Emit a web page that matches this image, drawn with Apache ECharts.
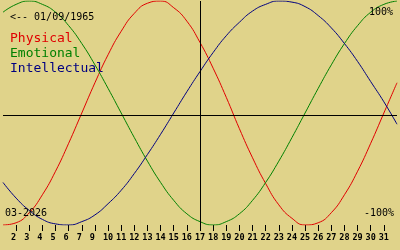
<!DOCTYPE html>
<html>
<head>
<meta charset="utf-8">
<script src="https://cdn.jsdelivr.net/npm/echarts@6/dist/echarts.min.js"></script>
<style>
html,body{margin:0;padding:0;background:#e0d38a;}
#c{width:400px;height:250px;}
</style>
</head>
<body>
<div id="c"></div>
<script>
// Tick labels under the ticks (note: "8" is absent in the reference)
const tickLabels = ['2','3','4','5','6','7','9','10','11','12','13','14','15','16','17','18','19','20','21','22','23','24','25','26','27','28','29','30','31'];
// Sample positions (day steps across the month, 0..30)
const steps = [0,1,2,3,4,5,6,7,8,9,10,11,12,13,14,15,16,17,18,19,20,21,22,23,24,25,26,27,28,29,30];
// Biorhythm values (-1..1)
const physical = [-1.00,-0.98,-0.89,-0.73,-0.52,-0.27,0.00,0.27,0.52,0.73,0.89,0.98,1.00,0.94,0.82,0.63,0.40,0.14,-0.14,-0.40,-0.63,-0.82,-0.94,-1.00,-0.98,-0.89,-0.73,-0.52,-0.27,0.00,0.27];
const emotional = [0.90,0.97,1.00,0.97,0.90,0.78,0.62,0.43,0.22,0.00,-0.22,-0.43,-0.62,-0.78,-0.90,-0.97,-1.00,-0.97,-0.90,-0.78,-0.62,-0.43,-0.22,0.00,0.22,0.43,0.62,0.78,0.90,0.97,1.00];
const intellectual = [-0.62,-0.76,-0.87,-0.95,-0.99,-1.00,-0.97,-0.91,-0.81,-0.69,-0.54,-0.37,-0.19,0.00,0.19,0.37,0.54,0.69,0.81,0.91,0.97,1.00,0.99,0.95,0.87,0.76,0.62,0.46,0.28,0.10,-0.10];
const legendNames = ['Physical','Emotional','Intellectual'];
const birthText = '<-- 01/09/1965';
const monthText = '03-2026';
const topText = '100%';
const bottomText = '-100%';
const zeroLineValue = -0.018;
const todayIndex = 15;

const mono = 'DejaVu Sans Mono';
const colors = ['#e00000','#008000','#000080'];

const chart = echarts.init(document.getElementById('c'), null, {renderer:'canvas'});
const categories = steps.map(String);
const innerSteps = steps.slice(1, steps.length - 1);
function labelFor(idx){
  if (idx < 1 || idx > tickLabels.length) return '';
  const s = tickLabels[idx-1];
  return s.length === 1 ? s + ' ' : s;
}
const tStyle = (size, color) => ({fontFamily: mono, fontSize: size, color: color, fontWeight: 'normal'});
chart.setOption({
  animation: false,
  backgroundColor: '#e0d38a',
  title: [
    {text: birthText, left: 10, top: 12, padding: 0, textStyle: tStyle(10,'#000')},
    {text: legendNames[0], left: 10, top: 32, padding: 0, textStyle: tStyle(13, colors[0])},
    {text: legendNames[1], left: 10, top: 47, padding: 0, textStyle: tStyle(13, colors[1])},
    {text: legendNames[2], left: 10, top: 62, padding: 0, textStyle: tStyle(13, colors[2])},
    {text: topText, right: 7, top: 7, padding: 0, textStyle: tStyle(10,'#000')},
    {text: bottomText, right: 6, top: 208, padding: 0, textStyle: tStyle(10,'#000')},
    {text: monthText, left: 5, top: 208, padding: 0, textStyle: tStyle(10,'#000')}
  ],
  grid: {left: 0, right: 0, top: 1, bottom: 25, containLabel: false},
  xAxis: {
    type: 'category',
    data: categories,
    boundaryGap: false,
    position: 'bottom',
    axisLine: {show: true, onZero: false, lineStyle: {color: 'rgba(0,0,0,0)'}},
    axisTick: {show: true, length: 6, interval: 0, customValues: innerSteps, lineStyle: {color: '#000', width: 1}},
    axisLabel: {show: true, interval: 0, margin: 8, color: '#000', fontFamily: mono, fontSize: 8.5, fontWeight: 'bold',
      formatter: function(v, idx){ return labelFor(idx); }},
    splitLine: {show: false}
  },
  yAxis: {type: 'value', min: -1, max: 1, show: false},
  series: [
    {name: legendNames[0], type: 'line', data: physical, smooth: true, showSymbol: false,
      lineStyle: {color: colors[0], width: 1}, z: 3,
      markLine: {silent: true, symbol: 'none', label: {show: false}, animation: false,
        lineStyle: {color: '#000', width: 1, type: 'solid'},
        data: [{yAxis: zeroLineValue}, {xAxis: todayIndex}]}},
    {name: legendNames[1], type: 'line', data: emotional, smooth: true, showSymbol: false,
      lineStyle: {color: colors[1], width: 1}, z: 3},
    {name: legendNames[2], type: 'line', data: intellectual, smooth: true, showSymbol: false,
      lineStyle: {color: colors[2], width: 1}, z: 3}
  ]
});
</script>
</body>
</html>
